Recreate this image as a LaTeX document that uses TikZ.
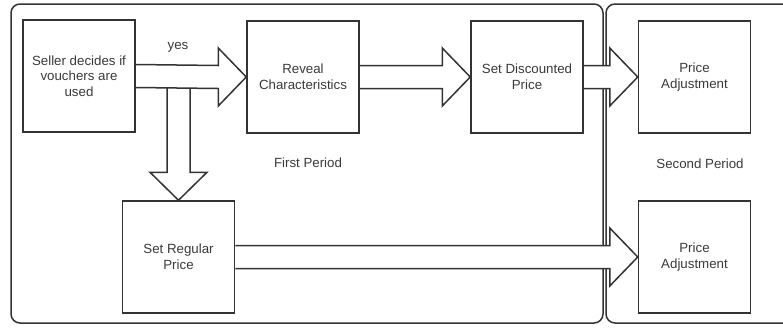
\documentclass[tikz,border=0pt]{standalone}
\usepackage{fontspec}
\setmainfont{Liberation Sans}
\usetikzlibrary{calc}
\pgfdeclarelayer{frames}
\pgfdeclarelayer{arrows}
\pgfsetlayers{frames,arrows,main}
\definecolor{ink}{HTML}{333333}
\definecolor{txt}{HTML}{3A3A3A}
\tikzset{
  stepbox/.style={draw=ink, line width=1.5pt, fill=white, minimum width=112pt,
    minimum height=112pt, inner sep=0pt, align=center, text=txt,
    font=\fontsize{13.3}{15.6}\selectfont},
  blockarrow/.style={draw=ink, line width=1.5pt, fill=white, line join=miter},
  period/.style={draw=ink, line width=1.5pt, rounded corners=9pt},
  caption/.style={text=txt, font=\fontsize{13.3}{15.6}\selectfont, inner sep=0pt}
}
\begin{document}
\begin{tikzpicture}[x=1pt, y=-1pt]
\useasboundingbox (0,0) rectangle (783,330);
\clip (0,0) rectangle (783,330);

% process steps
\node[stepbox] (seller)   at (79,76)    {Seller decides if\\vouchers are\\used};
\node[stepbox] (reveal)   at (303,77)   {Reveal\\Characteristics};
\node[stepbox] (discount) at (527,77)   {Set Discounted\\Price};
\node[stepbox] (adjtop)   at (694.5,77) {Price\\Adjustment};
\node[stepbox] (regular)  at (178.5,257){Set Regular\\Price};
\node[stepbox] (adjbot)   at (694.5,257){Price\\Adjustment};

% labels
\node[caption] (yes)    at (178,47)  {yes};
\node[caption] (first)  at (308,163) {First Period};
\node[caption] (second) at (700,164) {Second Period};

% period frames
\begin{pgfonlayer}{frames}
  \draw[period] (11,4) rectangle (603,323);
  \draw[period] (820,4) -- (606,4) -- (606,323) -- (820,323);
\end{pgfonlayer}

% block arrows
\coordinate (split) at (regular.north |- seller.east);
\begin{pgfonlayer}{arrows}
  % down to the regular price
  \draw[blockarrow] ($(split)+(-11.5,0)$) -- ($(regular.north)+(-11.5,-28)$)
    -- ($(regular.north)+(-28.5,-28)$) -- (regular.north)
    -- ($(regular.north)+(28.5,-28)$) -- ($(regular.north)+(11.5,-28)$)
    -- ($(split)+(11.5,0)$);
  % horizontal arrows
  \foreach \a/\b in {seller/reveal, reveal/discount, discount/adjtop, regular/adjbot}{
    \draw[blockarrow] ($(\a.east)+(0,-11.5)$) -- ($(\b.west)+(-28,-11.5)$)
      -- ($(\b.west)+(-28,-29)$) -- (\b.west)
      -- ($(\b.west)+(-28,29)$) -- ($(\b.west)+(-28,11.5)$)
      -- ($(\a.east)+(0,11.5)$);
  }
\end{pgfonlayer}
\end{tikzpicture}
\end{document}
